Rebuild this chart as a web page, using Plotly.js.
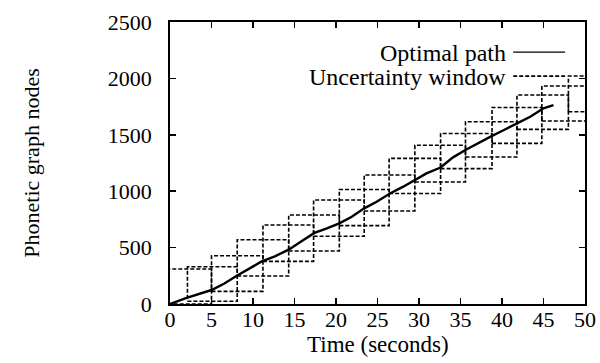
<!DOCTYPE html>
<html>
<head>
<meta charset="utf-8">
<script src="https://cdn.plot.ly/plotly-3.0.1.min.js"></script>
<style>html,body{margin:0;padding:0;background:#fff;}#chart{width:600px;height:363px;}</style>
</head>
<body>
<div id="chart"></div>
<script>
// Optimal path (time in seconds, phonetic graph nodes)
const pathTime  = [0, 2, 5, 6.5, 8, 9.5, 11, 12.7, 14.3, 15.8, 17.4, 18.9, 20.4, 21.9, 23.4, 24.9, 26.5, 28.1, 29.5, 30.9, 32.6, 34.1, 35.7, 37.2, 38.8, 40.3, 41.8, 43.4, 45.0, 46.2];
const pathNodes = [0, 55, 124, 180, 248, 310, 375, 425, 482, 555, 630, 671, 715, 774, 848, 907, 980, 1040, 1100, 1158, 1210, 1300, 1370, 1430, 1490, 1545, 1602, 1660, 1735, 1764];

// Uncertainty windows (start/end time, lowest/highest node)
const windowStart  = [-1, 2.1, 5.0, 8.1, 11.2, 14.3, 17.3, 20.4, 23.4, 26.4, 29.5, 32.6, 35.6, 38.8, 41.8, 44.8, 48.0];
const windowEnd    = [5.0, 8.1, 11.2, 14.3, 17.3, 20.4, 23.4, 26.4, 29.5, 32.6, 35.6, 38.8, 41.8, 44.8, 48.0, 51, 54];
const windowBottom = [0, 25, 112, 248, 378, 470, 600, 695, 825, 980, 1082, 1200, 1303, 1424, 1548, 1622, 1705];
const windowTop    = [310, 330, 428, 570, 700, 789, 922, 1015, 1144, 1291, 1408, 1512, 1616, 1742, 1853, 1933, 2021];

const xTicks = [0, 5, 10, 15, 20, 25, 30, 35, 40, 45, 50];
const yTicks = [0, 500, 1000, 1500, 2000, 2500];

const xTitle = "Time (seconds)";
const yTitle = "Phonetic graph nodes";
const legendLabels = ["Optimal path", "Uncertainty window"];

// build rectangle outlines
const wx = [], wy = [];
for (let i = 0; i < windowStart.length; i++) {
  wx.push(windowStart[i], windowEnd[i], windowEnd[i], windowStart[i], windowStart[i], null);
  wy.push(windowBottom[i], windowBottom[i], windowTop[i], windowTop[i], windowBottom[i], null);
}

const FONT = "Liberation Serif";

const traces = [
  {
    x: wx, y: wy, mode: "lines", name: legendLabels[1],
    line: {color: "#000", width: 1.6, dash: "4px,2px"},
    connectgaps: false, hoverinfo: "skip"
  },
  {
    x: pathTime, y: pathNodes, mode: "lines", name: legendLabels[0],
    line: {color: "#000", width: 2.4}
  }
];

const axisCommon = {
  showline: true, linecolor: "#000", linewidth: 1.8, mirror: "ticks",
  ticks: "inside", ticklen: 6, tickwidth: 1.6, tickcolor: "#000",
  showgrid: false, zeroline: false,
  tickfont: {family: FONT, size: 22, color: "#000"}
};

const layout = {
  width: 600, height: 363,
  margin: {l: 170, r: 15, t: 22, b: 59},
  paper_bgcolor: "#fff", plot_bgcolor: "#fff",
  showlegend: false,
  font: {family: FONT, color: "#000"},
  xaxis: Object.assign({}, axisCommon, {
    range: [0, 50], tickvals: xTicks, ticktext: xTicks.map(String),
    ticklabelstandoff: -5
  }),
  yaxis: Object.assign({}, axisCommon, {
    range: [0, 2500], tickvals: yTicks, ticktext: yTicks.map(String),
    ticklabelstandoff: 12,
    title: {text: yTitle, font: {family: FONT, size: 22, color: "#000"}, standoff: 62}
  }),
  annotations: [
    {xref: "paper", yref: "paper", x: 0.5, y: -0.142, xanchor: "center", yanchor: "middle",
     text: xTitle, showarrow: false, font: {family: FONT, size: 23, color: "#000"}},
    {xref: "paper", yref: "paper", x: 0.815, y: 0.890, xanchor: "right", yanchor: "middle",
     text: legendLabels[0], showarrow: false, font: {family: FONT, size: 24, color: "#000"}},
    {xref: "paper", yref: "paper", x: 0.815, y: 0.805, xanchor: "right", yanchor: "middle",
     text: legendLabels[1], showarrow: false, font: {family: FONT, size: 24, color: "#000"}}
  ],
  shapes: [
    {type: "line", xref: "paper", yref: "paper", x0: 0.827, x1: 0.952, y0: 0.893, y1: 0.893,
     line: {color: "#000", width: 1.4}},
    {type: "line", xref: "paper", yref: "paper", x0: 0.827, x1: 0.952, y0: 0.808, y1: 0.808,
     line: {color: "#000", width: 1.6, dash: "4px,2px"}}
  ]
};

Plotly.newPlot("chart", traces, layout, {displayModeBar: false, staticPlot: true});
</script>
</body>
</html>
